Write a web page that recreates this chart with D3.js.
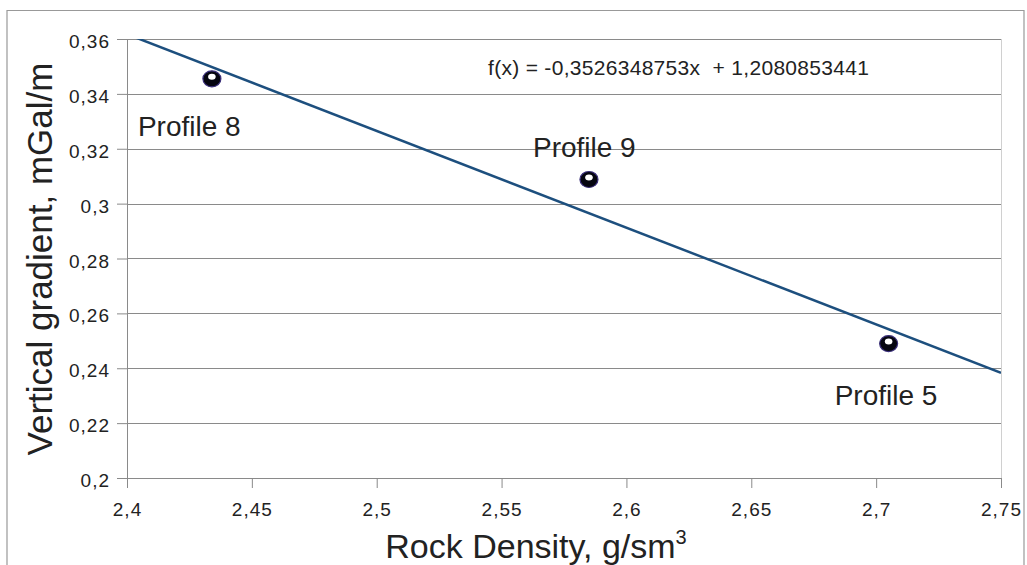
<!DOCTYPE html>
<html>
<head>
<meta charset="utf-8">
<script src="https://cdn.jsdelivr.net/npm/d3@7"></script>
<style>
  body { margin: 0; background: #fff; }
  svg text { font-family: "Liberation Sans", Arial, sans-serif; fill: #222; }
</style>
</head>
<body>
<div id="chart"></div>
<script>
const profiles = ["Profile 8", "Profile 9", "Profile 5"];
const density = [2.434, 2.585, 2.705];
const gradient = [0.3455, 0.3088, 0.249];
const xTicks = [2.4, 2.45, 2.5, 2.55, 2.6, 2.65, 2.7, 2.75];
const yTicks = [0.2, 0.22, 0.24, 0.26, 0.28, 0.3, 0.32, 0.34, 0.36];
const slope = -0.3526348753;
const intercept = 1.2080853441;
const equation = "f(x) = -0,3526348753x  + 1,2080853441";

const W = 1027, H = 565;
const margin = {top: 39, right: 26, bottom: 87, left: 127};
const width = W - margin.left - margin.right;
const height = H - margin.top - margin.bottom;

// label offsets from each point
const labelOffsets = [[-74, 57], [-56, -22], [-54, 61]];

const locale = d3.formatLocale({decimal: ",", thousands: ".", grouping: [3], currency: ["", ""]});
const fmt = locale.format("~g");

const svgRoot = d3.select("#chart").append("svg")
    .attr("width", W)
    .attr("height", H);

// outer frame
svgRoot.append("path")
    .attr("d", `M7,${H} L7,10.5 L1024,10.5 L1024,${H}`)
    .attr("fill", "none")
    .attr("stroke", "#999")
    .attr("stroke-width", 1.2);

const svg = svgRoot.append("g")
    .attr("transform", `translate(${margin.left},${margin.top})`);

const xScale = d3.scaleLinear().domain([2.4, 2.75]).range([0, width]);
const yScale = d3.scaleLinear().domain([0.2, 0.36]).range([height, 0]);

// gridlines
svg.append("g")
    .selectAll("line")
    .data(yTicks)
    .enter().append("line")
    .attr("x1", 0)
    .attr("x2", width)
    .attr("y1", d => Math.round(yScale(d)) + 0.5)
    .attr("y2", d => Math.round(yScale(d)) + 0.5)
    .attr("stroke", "#8a8a8a")
    .attr("stroke-width", 1);

// right border
svg.append("line")
    .attr("x1", width + 0.5).attr("x2", width + 0.5)
    .attr("y1", 0).attr("y2", height)
    .attr("stroke", "#d0d0d0");

const xAxis = d3.axisBottom(xScale).tickValues(xTicks).tickFormat(fmt).tickSizeInner(10).tickSizeOuter(0).tickPadding(10);
const yAxis = d3.axisLeft(yScale).tickValues(yTicks).tickFormat(fmt).tickSizeInner(10).tickSizeOuter(0).tickPadding(7);

const gx = svg.append("g")
    .attr("transform", `translate(0,${height})`)
    .call(xAxis);
const gy = svg.append("g")
    .call(yAxis);

[gx, gy].forEach(g => {
    g.select(".domain").attr("stroke", "#8a8a8a");
    g.selectAll(".tick line").attr("stroke", "#8a8a8a");
    g.selectAll(".tick text")
        .style("font-size", "19px")
        .style("letter-spacing", "1px")
        .attr("fill", "#222");
});
gy.selectAll(".tick text").attr("dy", "0.45em");
gx.selectAll(".tick text").attr("dy", "0.95em");

// trend line
svg.append("clipPath").attr("id", "plotClip")
  .append("rect").attr("width", width).attr("height", height);

const trend = xScale.domain().map(x => [x, slope * x + intercept]);
svg.append("path")
    .datum(trend)
    .attr("clip-path", "url(#plotClip)")
    .attr("d", d3.line().x(d => xScale(d[0])).y(d => yScale(d[1])))
    .attr("fill", "none")
    .attr("stroke", "#1d4f7e")
    .attr("stroke-width", 2.5);

// points
const pts = profiles.map((p, i) => ({name: p, x: density[i], y: gradient[i], off: labelOffsets[i]}));

const marks = svg.selectAll(".pt")
    .data(pts)
    .enter().append("g")
    .attr("class", "pt")
    .attr("transform", d => `translate(${xScale(d.x)},${yScale(d.y)})`);

marks.append("ellipse")
    .attr("rx", 9).attr("ry", 8)
    .attr("fill", "#050510")
    .attr("stroke", "#3a2f7a")
    .attr("stroke-width", 1.2);
marks.append("ellipse")
    .attr("cx", 0).attr("cy", -2)
    .attr("rx", 3.8).attr("ry", 3)
    .attr("fill", "#fff");

svg.selectAll(".plabel")
    .data(pts)
    .enter().append("text")
    .attr("class", "plabel")
    .attr("x", d => xScale(d.x) + d.off[0])
    .attr("y", d => yScale(d.y) + d.off[1])
    .style("font-size", "28px")
    .text(d => d.name);

// equation
svg.append("text")
    .attr("x", 488 - margin.left)
    .attr("y", 75 - margin.top)
    .attr("xml:space", "preserve")
    .style("white-space", "pre")
    .style("font-size", "21px")
    .style("letter-spacing", "0.3px")
    .text(equation);

// axis titles
svgRoot.append("text")
    .attr("x", 536)
    .attr("y", 558)
    .attr("text-anchor", "middle")
    .style("font-size", "34px")
    .html('Rock Density, g/sm<tspan dy="-14" style="font-size:20px">3</tspan>');

svgRoot.append("text")
    .attr("transform", "translate(52,259) rotate(-90)")
    .attr("text-anchor", "middle")
    .style("font-size", "35px")
    .text("Vertical gradient, mGal/m");
</script>
</body>
</html>
